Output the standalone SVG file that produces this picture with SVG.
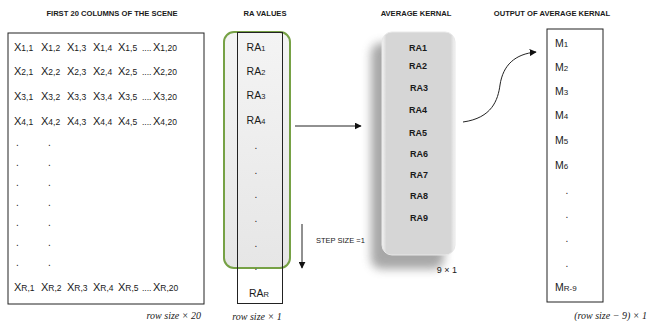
<svg xmlns="http://www.w3.org/2000/svg" width="648" height="321" viewBox="0 0 648 321">
<style>
.t{font-family:"Liberation Sans",Arial,sans-serif;fill:#1a1a1a}
.title{font-family:"Liberation Sans",Arial,sans-serif;font-weight:bold;font-size:7.6px;fill:#1a1a1a}
.x{font-family:"Liberation Sans",Arial,sans-serif;font-size:11px;fill:#1a1a1a}
.s{font-size:8.5px}
.ra{font-family:"Liberation Sans",Arial,sans-serif;font-size:10.5px;fill:#1a1a1a}
.k{font-family:"Liberation Sans",Arial,sans-serif;font-size:9px;font-weight:bold;fill:#1a1a1a}
.dot{font-family:"Liberation Sans",Arial,sans-serif;font-size:10px;fill:#1a1a1a}
.it{font-family:"Liberation Serif","Times New Roman",serif;font-style:italic;font-size:10px;fill:#1a1a1a}
.box{fill:#fff;stroke:#222;stroke-width:1}
.ln{fill:none;stroke:#222;stroke-width:1}
</style>
<defs>
<marker id="ah" viewBox="0 0 10 10" refX="9" refY="5" markerWidth="7" markerHeight="7" orient="auto" markerUnits="userSpaceOnUse">
<path d="M0,0 L10,5 L0,10 z" fill="#111"/>
</marker>
<linearGradient id="kg" x1="0" y1="0" x2="1" y2="0">
<stop offset="0" stop-color="#f4f4f4"/>
<stop offset="0.06" stop-color="#d6d6d6"/>
<stop offset="0.94" stop-color="#d6d6d6"/>
<stop offset="1" stop-color="#f4f4f4"/>
</linearGradient>
<linearGradient id="rg" x1="0" y1="0" x2="0" y2="1">
<stop offset="0" stop-color="#f4f4f4"/>
<stop offset="1" stop-color="#e6e6e6"/>
</linearGradient>
<filter id="sh" x="-50%" y="-20%" width="200%" height="140%">
<feGaussianBlur stdDeviation="5"/>
</filter>
</defs>

<g id="titles">
<text class="title" x="112" y="16" text-anchor="middle">FIRST 20 COLUMNS OF THE SCENE</text>
<text class="title" x="265" y="16" text-anchor="middle">RA VALUES</text>
<text class="title" x="416" y="16" text-anchor="middle">AVERAGE KERNAL</text>
<text class="title" x="552" y="16" text-anchor="middle">OUTPUT OF AVERAGE KERNAL</text>
</g>

<g id="scene">
<rect class="box" x="8" y="33" width="196" height="271"/>
<g class="x">
<text y="51"><tspan x="14">X</tspan><tspan class="s">1,1</tspan><tspan x="41">X</tspan><tspan class="s">1,2</tspan><tspan x="67">X</tspan><tspan class="s">1,3</tspan><tspan x="93">X</tspan><tspan class="s">1,4</tspan><tspan x="118">X</tspan><tspan class="s">1,5</tspan><tspan x="142" class="s">....</tspan><tspan x="153">X</tspan><tspan class="s">1,20</tspan></text>
<text y="75"><tspan x="14">X</tspan><tspan class="s">2,1</tspan><tspan x="41">X</tspan><tspan class="s">2,2</tspan><tspan x="67">X</tspan><tspan class="s">2,3</tspan><tspan x="93">X</tspan><tspan class="s">2,4</tspan><tspan x="118">X</tspan><tspan class="s">2,5</tspan><tspan x="142" class="s">....</tspan><tspan x="153">X</tspan><tspan class="s">2,20</tspan></text>
<text y="100"><tspan x="14">X</tspan><tspan class="s">3,1</tspan><tspan x="41">X</tspan><tspan class="s">3,2</tspan><tspan x="67">X</tspan><tspan class="s">3,3</tspan><tspan x="93">X</tspan><tspan class="s">3,4</tspan><tspan x="118">X</tspan><tspan class="s">3,5</tspan><tspan x="142" class="s">....</tspan><tspan x="153">X</tspan><tspan class="s">3,20</tspan></text>
<text y="125"><tspan x="14">X</tspan><tspan class="s">4,1</tspan><tspan x="41">X</tspan><tspan class="s">4,2</tspan><tspan x="67">X</tspan><tspan class="s">4,3</tspan><tspan x="93">X</tspan><tspan class="s">4,4</tspan><tspan x="118">X</tspan><tspan class="s">4,5</tspan><tspan x="142" class="s">....</tspan><tspan x="153">X</tspan><tspan class="s">4,20</tspan></text>
<text y="291"><tspan x="14">X</tspan><tspan class="s">R,1</tspan><tspan x="41">X</tspan><tspan class="s">R,2</tspan><tspan x="67">X</tspan><tspan class="s">R,3</tspan><tspan x="93">X</tspan><tspan class="s">R,4</tspan><tspan x="118">X</tspan><tspan class="s">R,5</tspan><tspan x="142" class="s">....</tspan><tspan x="153">X</tspan><tspan class="s">R,20</tspan></text>
</g>
<g class="dot">
<text x="16" y="146">.</text><text x="48" y="146">.</text>
<text x="16" y="166">.</text><text x="48" y="166">.</text>
<text x="16" y="186">.</text><text x="48" y="186">.</text>
<text x="16" y="206">.</text><text x="48" y="206">.</text>
<text x="16" y="226">.</text><text x="48" y="226">.</text>
<text x="16" y="246">.</text><text x="48" y="246">.</text>
<text x="16" y="266">.</text><text x="48" y="266">.</text>
</g>
<text class="it" x="201" y="319" text-anchor="end">row size × 20</text>
</g>

<g id="ra-values">
<rect x="224" y="32" width="66" height="236" rx="10" fill="url(#rg)" stroke="#76a145" stroke-width="2"/>
<rect class="ln" x="237.5" y="32.5" width="45" height="271"/>
<g class="ra" text-anchor="middle">
<text x="256" y="51">RA<tspan font-size="7.5">1</tspan></text>
<text x="256" y="75">RA<tspan font-size="7.5">2</tspan></text>
<text x="256" y="99">RA<tspan font-size="7.5">3</tspan></text>
<text x="256" y="124">RA<tspan font-size="7.5">4</tspan></text>
<text x="259" y="297">RA<tspan font-size="7.5">R</tspan></text>
</g>
<g class="dot" text-anchor="middle">
<text x="256" y="149">.</text>
<text x="256" y="174">.</text>
<text x="256" y="198">.</text>
<text x="256" y="222">.</text>
<text x="256" y="247">.</text>
<text x="256" y="270">.</text>
</g>
<text class="it" x="257" y="320" text-anchor="middle">row size × 1</text>
</g>

<g id="kernel">
<rect x="371" y="43" width="73" height="226" rx="10" fill="#8a8a8a" opacity="0.75" filter="url(#sh)"/>
<rect x="382" y="32" width="73" height="223" rx="10" fill="url(#kg)" stroke="#e8e8e8" stroke-width="1"/>
<g class="k" text-anchor="middle">
<text x="418" y="51">RA1</text>
<text x="418" y="69">RA2</text>
<text x="419" y="91">RA3</text>
<text x="418" y="113">RA4</text>
<text x="418" y="136">RA5</text>
<text x="419" y="157">RA6</text>
<text x="419" y="178">RA7</text>
<text x="419" y="199">RA8</text>
<text x="419" y="221">RA9</text>
</g>
<text class="t" x="447" y="273" font-size="9" text-anchor="middle">9 × 1</text>
</g>

<g id="output">
<rect class="box" x="547" y="29" width="56" height="273"/>
<g class="ra">
<text x="555" y="47">M<tspan font-size="8">1</tspan></text>
<text x="555" y="71">M<tspan font-size="8">2</tspan></text>
<text x="555" y="95">M<tspan font-size="8">3</tspan></text>
<text x="555" y="119">M<tspan font-size="8">4</tspan></text>
<text x="555" y="144">M<tspan font-size="8">5</tspan></text>
<text x="555" y="169">M<tspan font-size="8">6</tspan></text>
<text x="555" y="291">M<tspan font-size="8">R-9</tspan></text>
</g>
<g class="dot" text-anchor="middle">
<text x="567" y="194">.</text>
<text x="567" y="218">.</text>
<text x="567" y="242">.</text>
<text x="567" y="267">.</text>
</g>
<text class="it" x="647" y="319" text-anchor="end">(row size − 9) × 1</text>
</g>

<g id="connectors">
<line class="ln" x1="295" y1="126" x2="361" y2="126" marker-end="url(#ah)"/>
<line class="ln" x1="302" y1="224" x2="302" y2="268" marker-end="url(#ah)"/>
<path class="ln" d="M463,122 C492,118 498,100 500,85 C503,65 515,54 536,52" marker-end="url(#ah)"/>
</g>
<text class="t" x="316" y="243" font-size="7.5">STEP SIZE =1</text>
</svg>
